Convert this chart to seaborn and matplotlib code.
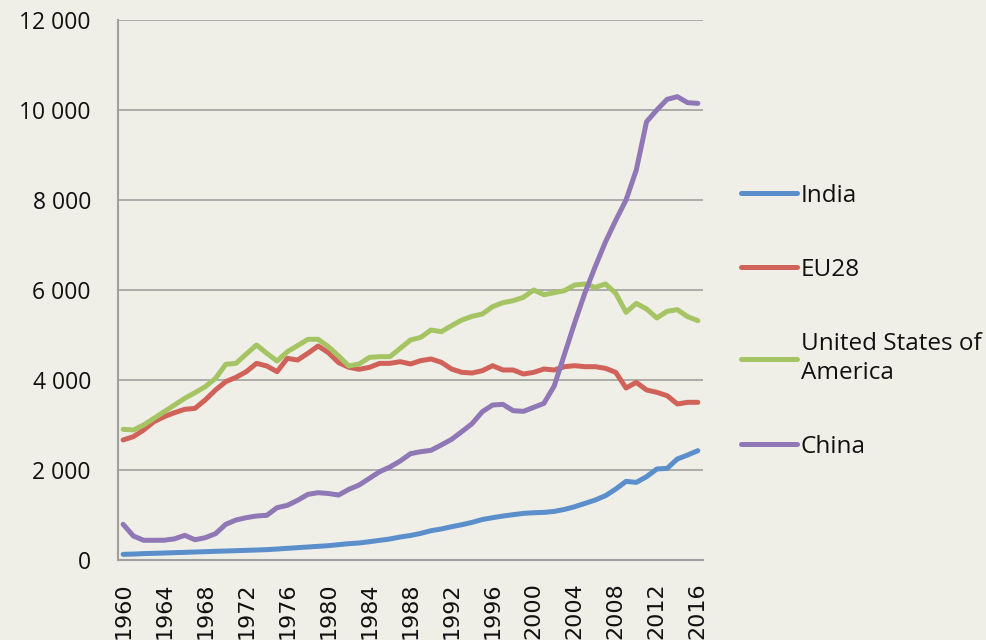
import numpy as np
import pandas as pd
import seaborn as sns
import matplotlib
matplotlib.use("Agg")
import matplotlib.pyplot as plt
from matplotlib.ticker import FuncFormatter, MultipleLocator

# data
years = list(range(1960, 2017))

india = [126, 132, 142, 148, 155, 163, 170, 178, 185, 193,
         200, 207, 215, 222, 230, 244, 259, 274, 289, 304,
         318, 341, 363, 378, 407, 437, 467, 511, 545, 592,
         651, 689, 740, 784, 836, 900, 940, 977, 1007, 1036,
         1050, 1058, 1080, 1124, 1184, 1258, 1333, 1429, 1577, 1747,
         1725, 1851, 2022, 2036, 2244, 2333, 2429]

eu28 = [2667, 2741, 2889, 3074, 3185, 3274, 3348, 3370, 3556, 3778,
        3963, 4059, 4185, 4370, 4311, 4185, 4481, 4444, 4593, 4756,
        4607, 4385, 4281, 4237, 4281, 4370, 4370, 4407, 4356, 4430,
        4467, 4393, 4244, 4170, 4155, 4207, 4318, 4222, 4222, 4133,
        4170, 4244, 4222, 4296, 4318, 4296, 4296, 4259, 4170, 3822,
        3948, 3778, 3726, 3652, 3467, 3504, 3504]

usa = [2904, 2889, 3000, 3148, 3296, 3444, 3593, 3718, 3852, 4037,
       4348, 4370, 4578, 4778, 4593, 4422, 4630, 4763, 4904, 4904,
       4741, 4533, 4311, 4356, 4504, 4519, 4519, 4704, 4889, 4948,
       5111, 5074, 5207, 5333, 5414, 5467, 5630, 5718, 5763, 5837,
       6000, 5896, 5940, 5985, 6111, 6133, 6059, 6133, 5926, 5504,
       5703, 5578, 5378, 5526, 5563, 5407, 5318]

china = [793, 533, 438, 438, 440, 470, 548, 450, 496, 585,
         793, 889, 941, 978, 993, 1163, 1215, 1326, 1459, 1496,
         1478, 1444, 1570, 1667, 1815, 1963, 2067, 2200, 2363, 2407,
         2437, 2556, 2681, 2852, 3030, 3296, 3444, 3459, 3318, 3303,
         3392, 3481, 3866, 4570, 5274, 5940, 6520, 7070, 7550, 8000,
         8667, 9740, 10000, 10237, 10296, 10163, 10148]

series_names = ["India", "EU28", "United States of\nAmerica", "China"]
colors = ["#5A8FCC", "#D0625A", "#A5C463", "#8F78B5"]

df = pd.DataFrame({
    "year": years * 4,
    "value": india + eu28 + usa + china,
    "series": np.repeat(series_names, len(years)),
})

bg = "#F0EFE7"
grid_c = "#A0A0A0"

sns.set_style("white")
plt.rcParams["font.family"] = ["Open Sans", "DejaVu Sans"]
plt.rcParams["text.color"] = "#111111"

fig = plt.figure(figsize=(9.87, 6.40), dpi=100, facecolor=bg)
ax = fig.add_axes([118 / 987, 80 / 640, 585 / 987, 540 / 640])
ax.set_facecolor(bg)

sns.lineplot(data=df, x="year", y="value", hue="series", hue_order=series_names,
             palette=colors, linewidth=3.6, ax=ax, legend=True)
for ln in ax.get_lines():
    ln.set_solid_capstyle("round")
    ln.set_solid_joinstyle("round")

ax.set_xlim(1959.5, 2016.5)
ax.set_ylim(0, 12000)
ax.yaxis.set_major_locator(MultipleLocator(2000))
ax.yaxis.set_major_formatter(FuncFormatter(lambda v, p: f"{int(v):,}".replace(",", " ")))
ax.grid(axis="y", color=grid_c, linewidth=1.2)
ax.set_axisbelow(True)

ax.set_xticks(years[::4])
ax.set_xticklabels([str(y) for y in years[::4]], rotation=90,
                   family="DejaVu Sans", fontsize=16, va="top", color="#111111")
ax.set_xticks(np.arange(1959.5, 2017, 1), minor=True)
ax.tick_params(axis="x", which="major", length=0, pad=16)
ax.tick_params(axis="x", which="minor", length=5, width=1.2, color=grid_c, direction="out")
ax.tick_params(axis="y", length=6.5, width=1.2, color=grid_c, pad=13, labelsize=16.5,
               labelcolor="#111111")

for s in ["top", "right"]:
    ax.spines[s].set_visible(False)
for s in ["left", "bottom"]:
    ax.spines[s].set_color(grid_c)
    ax.spines[s].set_linewidth(1.5)

ax.set_xlabel("")
ax.set_ylabel("")

handles, labels = ax.get_legend_handles_labels()
ax.get_legend().remove()
leg = fig.legend(handles, labels, loc="upper left", bbox_to_anchor=(741 / 987, 1 - 184 / 640),
                 frameon=False, fontsize=17.5, handlelength=2.3, handletextpad=0.15,
                 labelspacing=2.05, borderaxespad=0, borderpad=0)
for t in leg.get_texts():
    t.set_linespacing(1.3)
for h in leg.legend_handles:
    h.set_linewidth(3.6)
    h.set_solid_capstyle("round")

fig.savefig("out.png", dpi=100, facecolor=bg)
